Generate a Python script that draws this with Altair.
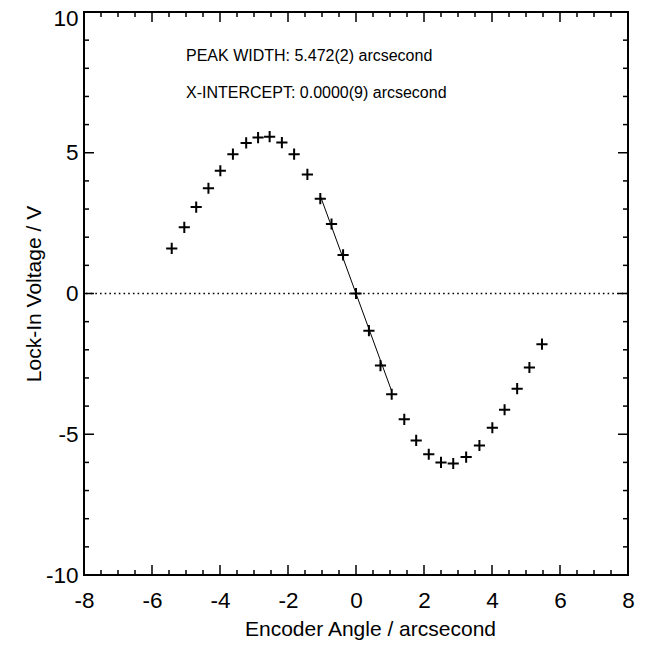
import altair as alt
import pandas as pd

angle = [-5.42, -5.05, -4.70, -4.34, -3.99, -3.62, -3.23, -2.88, -2.54, -2.18,
         -1.82, -1.43, -1.05, -0.72, -0.38, 0.00, 0.38, 0.72, 1.05, 1.42,
         1.77, 2.14, 2.50, 2.86, 3.24, 3.63, 4.01, 4.37, 4.74, 5.10, 5.47]
voltage = [1.60, 2.35, 3.07, 3.74, 4.36, 4.95, 5.35, 5.54, 5.57, 5.36,
           4.95, 4.23, 3.37, 2.47, 1.37, 0.00, -1.32, -2.56, -3.58, -4.47,
           -5.22, -5.71, -6.00, -6.04, -5.81, -5.40, -4.77, -4.13, -3.38, -2.63,
           -1.80]

# Linear fit segment near the zero crossing
fit_x = [-1.05, 1.05]
fit_y = [3.47, -3.47]

# Annotations
note_text = ["PEAK WIDTH: 5.472(2) arcsecond", "X-INTERCEPT: 0.0000(9) arcsecond"]
note_x = [-5.0, -5.0]
note_y = [8.25, 6.95]

# Axis ticks
x_major = [-8, -6, -4, -2, 0, 2, 4, 6, 8]
x_minor = [v / 2 for v in range(-16, 17) if v % 4 != 0]
y_major = [-10, -5, 0, 5, 10]
y_minor = [v for v in range(-10, 11) if v % 5 != 0]

W, H = 544, 563
FONT = "Liberation Sans"

xs = alt.Scale(domain=[-8, 8], nice=False, zero=False)
ys = alt.Scale(domain=[-10, 10], nice=False, zero=False)

pts = pd.DataFrame({"x": angle, "y": voltage})
fit = pd.DataFrame({"x": fit_x, "y": fit_y})
notes = pd.DataFrame({"x": note_x, "y": note_y, "t": note_text})

base_x = alt.X("x:Q", scale=xs, axis=alt.Axis(
    values=x_major, ticks=False, tickSize=0, domain=False, grid=False,
    labelExpr="'' + datum.value",
    labelFontSize=22.5, labelFont=FONT, labelColor="black", labelPadding=14,
    labelFlush=False,
    title="Encoder Angle / arcsecond", titleFontSize=21, titleFont=FONT,
    titleFontWeight="normal", titleColor="black", titleX=286, titleY=60,
    titleBaseline="alphabetic", titleAnchor="middle"))
base_y = alt.Y("y:Q", scale=ys, axis=alt.Axis(
    values=y_major, ticks=False, tickSize=0, domain=False, grid=False,
    labelExpr="'' + datum.value",
    labelOffset={"condition": {"test": "datum.value === 10", "value": 6}, "value": 0},
    labelFontSize=22.5, labelFont=FONT, labelColor="black", labelPadding=6,
    labelFlush=False,
    title="Lock-In Voltage / V", titleFontSize=21, titleFont=FONT,
    titleFontWeight="normal", titleColor="black", titleX=-50, titleY=H / 2,
    titleAngle=-90, titleBaseline="middle", titleAlign="center"))

points = alt.Chart(pts).mark_point(
    shape="M-1,0L1,0M0,-1L0,1", size=125, filled=False, stroke="black",
    strokeWidth=2, opacity=1
).encode(x=base_x, y=base_y)

line = alt.Chart(fit).mark_line(color="black", strokeWidth=1).encode(
    x=alt.X("x:Q", scale=xs), y=alt.Y("y:Q", scale=ys))

zero = alt.Chart(pd.DataFrame({"y": [0]})).mark_rule(
    color="black", strokeWidth=1.6, strokeDash=[1.6, 3.1]
).encode(y=alt.Y("y:Q", scale=ys))

text = alt.Chart(notes).mark_text(
    align="left", baseline="alphabetic", fontSize=16, font=FONT, color="black"
).encode(x=alt.X("x:Q", scale=xs), y=alt.Y("y:Q", scale=ys), text="t:N")


def xticks(vals, length, top):
    df = pd.DataFrame({"x": vals})
    if top:
        yy, yy2 = alt.value(0), alt.value(length)
    else:
        yy, yy2 = alt.value(H), alt.value(H - length)
    return alt.Chart(df).mark_rule(color="black", strokeWidth=1.5).encode(
        x=alt.X("x:Q", scale=xs), y=yy, y2=yy2)


def yticks(vals, length, right):
    df = pd.DataFrame({"y": vals})
    if right:
        xx, xx2 = alt.value(W), alt.value(W - length)
    else:
        xx, xx2 = alt.value(0), alt.value(length)
    return alt.Chart(df).mark_rule(color="black", strokeWidth=1.5).encode(
        y=alt.Y("y:Q", scale=ys), x=xx, x2=xx2)


ticks = [
    xticks(x_major, 10, False), xticks(x_minor, 5, False),
    xticks(x_major, 10, True), xticks(x_minor, 5, True),
    yticks(y_major, 10, False), yticks(y_minor, 5, False),
    yticks(y_major, 10, True), yticks(y_minor, 5, True),
]

chart = alt.layer(points, zero, line, text, *ticks).properties(
    width=W, height=H,
    autosize=alt.AutoSizeParams(type="none"),
    padding={"left": 76, "top": 4, "right": 9, "bottom": 65},
    background="white",
).configure_view(stroke="black", strokeWidth=2)

chart.save("out.html", embed_options={"renderer": "svg", "actions": False})
